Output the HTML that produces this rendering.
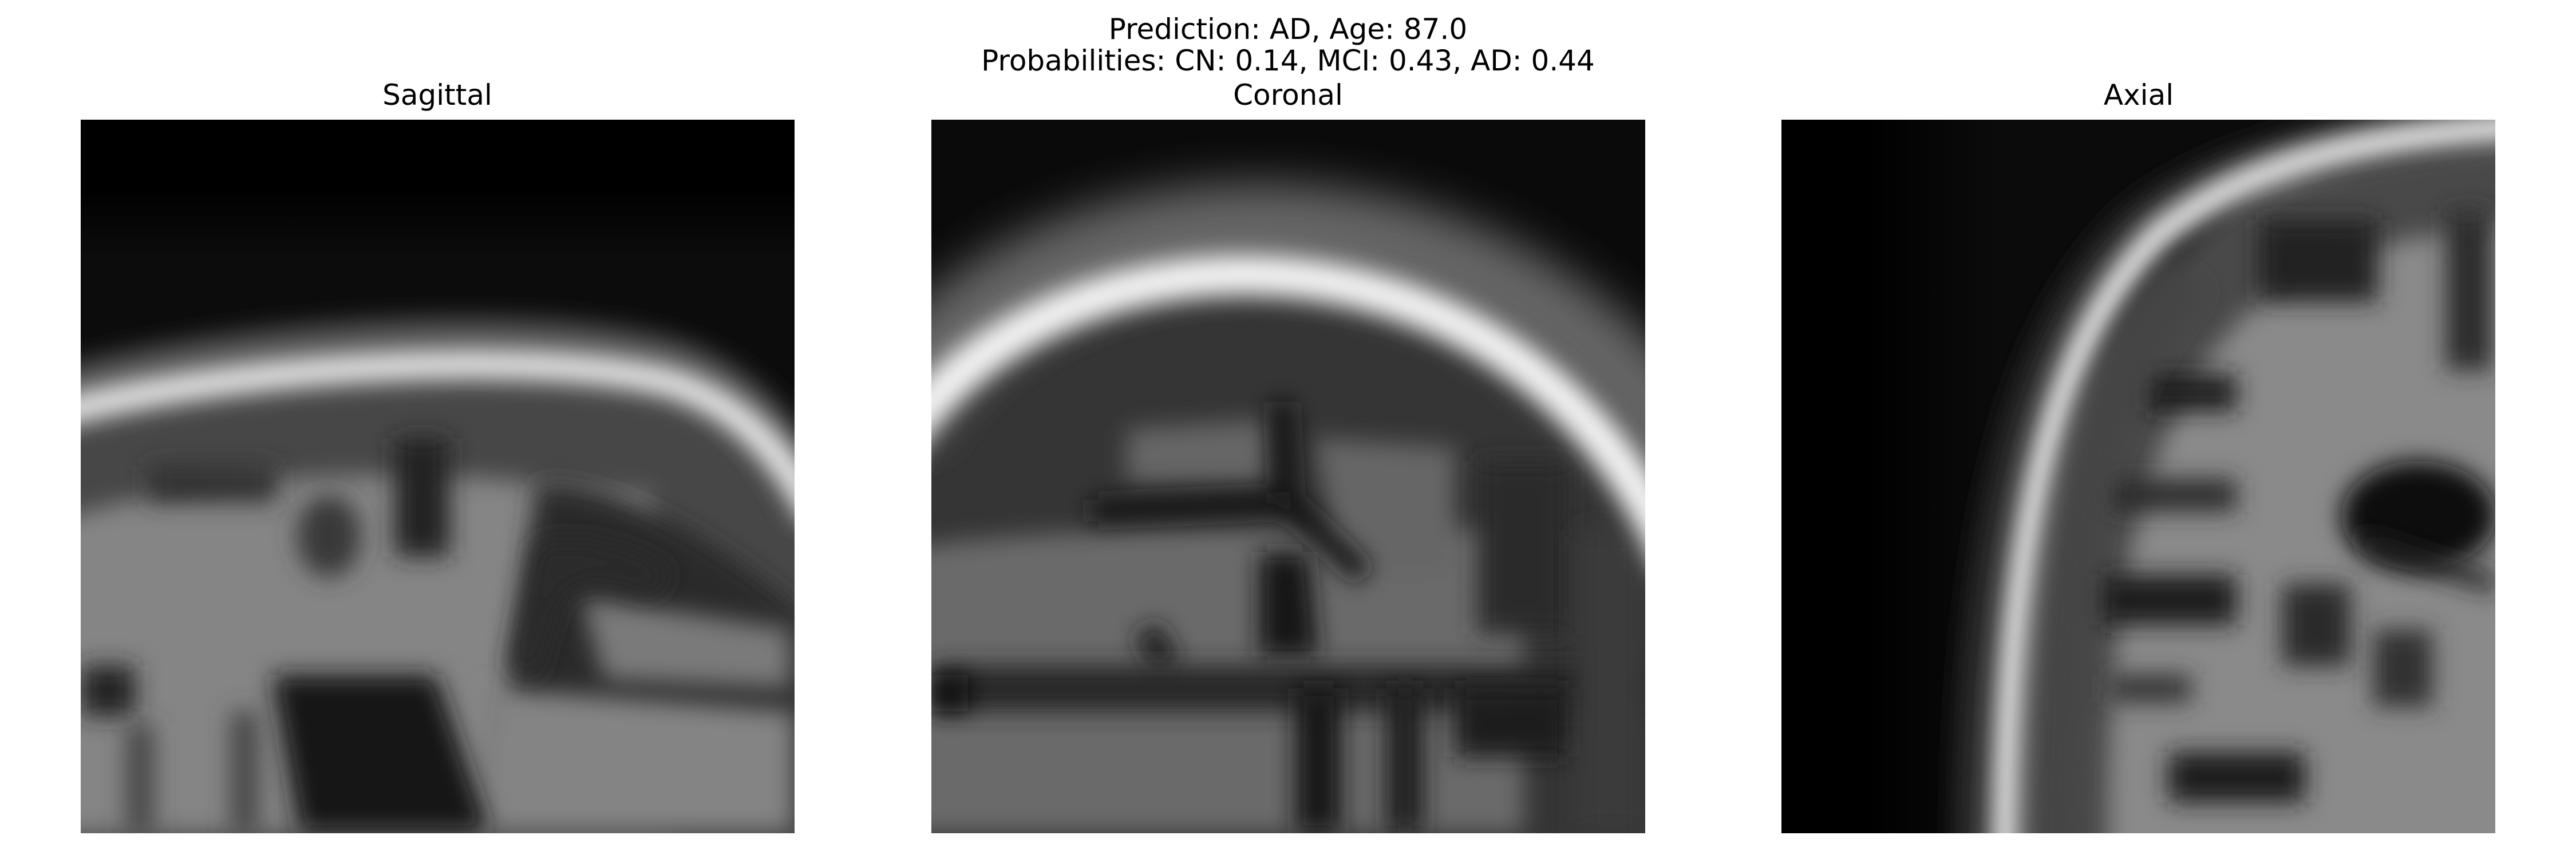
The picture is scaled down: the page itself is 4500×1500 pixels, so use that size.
<!DOCTYPE html>
<html><head><meta charset="utf-8"><style>
html,body{margin:0;padding:0;background:#fff;}
svg{display:block;}
text{font-family:"DejaVu Sans","Liberation Sans",sans-serif;font-size:50px;fill:#000;}
</style></head><body>
<svg width="4500" height="1500" viewBox="0 0 4500 1500">
<defs>
<filter id="b" filterUnits="userSpaceOnUse" x="-600" y="-600" width="2800" height="2800"><feGaussianBlur stdDeviation="26"/></filter>
<filter id="b2" filterUnits="userSpaceOnUse" x="-600" y="-600" width="2800" height="2800"><feGaussianBlur stdDeviation="50"/></filter>
<linearGradient id="hz" x1="0" y1="0" x2="0" y2="1">
<stop offset="0" stop-color="#000"/><stop offset="0.15" stop-color="#000"/><stop offset="0.3" stop-color="#0c0c0c"/><stop offset="1" stop-color="#0c0c0c"/>
</linearGradient>
<linearGradient id="hx" x1="0" y1="0" x2="1" y2="0">
<stop offset="0" stop-color="#000"/><stop offset="0.12" stop-color="#000"/><stop offset="0.3" stop-color="#0b0b0b"/><stop offset="1" stop-color="#0b0b0b"/>
</linearGradient>
<clipPath id="c"><rect width="1568" height="1568"/></clipPath>
</defs>
<text x="2250" y="68" text-anchor="middle">Prediction: AD, Age: 87.0</text>
<text x="2250" y="123" text-anchor="middle">Probabilities: CN: 0.14, MCI: 0.43, AD: 0.44</text>
<text x="764" y="183" text-anchor="middle">Sagittal</text>
<text x="2250" y="183" text-anchor="middle">Coronal</text>
<text x="3736" y="183" text-anchor="middle">Axial</text>

<!-- Sagittal -->
<svg x="141" y="209" width="1247" height="1246" viewBox="0 0 1568 1568" preserveAspectRatio="none">
<g clip-path="url(#c)">
<rect width="1568" height="1568" fill="#000"/>
<rect x="0" y="0" width="1568" height="1000" fill="url(#hz)"/>
<path d="M-100 660 C300 540 1000 500 1300 580 C1450 630 1540 730 1700 900 L1700 1700 L-100 1700Z" fill="#474747" filter="url(#b)"/>
<path d="M-100 900 C200 780 700 760 1000 800 L1250 820 L1300 1568 L-100 1568Z" fill="#858585" filter="url(#b)"/>
<path d="M1000 800 C1200 780 1500 1000 1600 1100 L1600 1568 L900 1568Z" fill="#2c2c2c" filter="url(#b)"/>
<path d="M1100 1050 L1560 1120 L1560 1250 L1150 1230Z" fill="#7a7a7a" filter="url(#b)"/>
<path d="M900 1250 L1568 1300 L1568 1568 L850 1568Z" fill="#848484" filter="url(#b)"/>
<path d="M1000 930 C1100 900 1250 950 1300 1000 L1250 1050 C1150 1000 1060 1000 1040 1100 L1000 1230 L940 1200Z" fill="#2a2a2a" filter="url(#b)"/>
<ellipse cx="545" cy="915" rx="70" ry="90" fill="#383838" filter="url(#b)"/>
<rect x="690" y="700" width="120" height="260" fill="#222" filter="url(#b)"/>
<rect x="150" y="760" width="280" height="80" fill="#333" filter="url(#b)"/>
<path d="M420 1220 L780 1220 L900 1568 L480 1568Z" fill="#181818" filter="url(#b)"/>
<rect x="0" y="1200" width="120" height="110" fill="#222" filter="url(#b)"/>
<rect x="100" y="1330" width="60" height="240" fill="#444" filter="url(#b)"/>
<rect x="330" y="1300" width="60" height="268" fill="#444" filter="url(#b)"/>
<path d="M-100 620 C300 490 1000 450 1300 540 C1450 590 1540 700 1620 860" fill="none" stroke="#555" stroke-width="110" filter="url(#b)"/>
<path d="M-100 660 C300 540 1000 500 1300 580 C1450 630 1540 730 1620 880" fill="none" stroke="#f2f2f2" stroke-width="60" filter="url(#b)"/>
</g></svg>

<!-- Coronal -->
<svg x="1627" y="209" width="1247" height="1246" viewBox="0 0 1568 1568" preserveAspectRatio="none">
<g clip-path="url(#c)">
<rect width="1568" height="1568" fill="#0a0a0a"/>
<path d="M-100 760 C200 190 1300 140 1700 990 L1700 1700 L-100 1700Z" fill="#363636" filter="url(#b)"/>
<path d="M-100 950 C300 880 900 900 1300 900 L1300 1568 L-100 1568Z" fill="#6a6a6a" filter="url(#b)"/>
<path d="M430 680 L740 660 L740 800 L430 800Z" fill="#666" filter="url(#b)"/>
<path d="M840 700 L1150 720 L1150 1000 L900 1000Z" fill="#666" filter="url(#b)"/>
<path d="M350 860 L780 840 M770 620 L780 840 L950 1000" fill="none" stroke="#161616" stroke-width="50" filter="url(#b)"/>
<path d="M720 950 L830 950 L850 1180 L720 1180Z" fill="#151515" filter="url(#b)"/>
<path d="M470 1120 L520 1200" stroke="#1a1a1a" stroke-width="60" filter="url(#b)"/>
<rect x="1200" y="750" width="200" height="380" fill="#2a2a2a" filter="url(#b)"/>
<rect x="0" y="1200" width="1568" height="100" fill="#262626" filter="url(#b)"/>
<rect x="0" y="1220" width="80" height="80" fill="#111" filter="url(#b)"/>
<rect x="800" y="1250" width="100" height="318" fill="#151515" filter="url(#b)"/>
<rect x="1000" y="1250" width="80" height="318" fill="#1a1a1a" filter="url(#b)"/>
<rect x="1150" y="1250" width="250" height="150" fill="#1a1a1a" filter="url(#b)"/>
<rect x="1420" y="900" width="148" height="668" fill="#3a3a3a" filter="url(#b)"/>
<path d="M-100 660 C200 100 1300 50 1700 820" fill="none" stroke="#666" stroke-width="200" filter="url(#b2)"/>
<path d="M-100 760 C200 190 1300 140 1640 990" fill="none" stroke="#f4f4f4" stroke-width="90" filter="url(#b)"/>
</g></svg>

<!-- Axial -->
<svg x="3112" y="209" width="1247" height="1246" viewBox="0 0 1568 1568" preserveAspectRatio="none">
<g clip-path="url(#c)">
<rect width="1568" height="1568" fill="url(#hx)"/>
<path d="M520 1700 C520 1000 600 400 1100 120 L1700 20 L1700 1700Z" fill="#4a4a4a" filter="url(#b)"/>
<path d="M720 1700 C700 1000 800 500 1200 300 L1700 200 L1700 1700Z" fill="#8a8a8a" filter="url(#b)"/>
<ellipse cx="1400" cy="870" rx="170" ry="120" fill="#111" filter="url(#b)"/>
<path d="M1250 900 L1568 1000 L1568 1040 L1300 960Z" fill="#222" filter="url(#b)"/>
<rect x="800" y="560" width="200" height="80" fill="#1c1c1c" filter="url(#b)"/>
<rect x="720" y="790" width="280" height="70" fill="#2a2a2a" filter="url(#b)"/>
<rect x="700" y="1000" width="300" height="110" fill="#1a1a1a" filter="url(#b)"/>
<rect x="1100" y="1020" width="150" height="180" fill="#2a2a2a" filter="url(#b)"/>
<rect x="1300" y="1120" width="130" height="170" fill="#333" filter="url(#b)"/>
<rect x="850" y="1390" width="300" height="110" fill="#1a1a1a" filter="url(#b)"/>
<rect x="720" y="1220" width="180" height="60" fill="#333" filter="url(#b)"/>
<rect x="1050" y="220" width="260" height="180" fill="#222" filter="url(#b)"/>
<rect x="1460" y="200" width="100" height="350" fill="#2a2a2a" filter="url(#b)"/>
<path d="M600 1700 C600 1000 660 600 900 350" fill="none" stroke="#444" stroke-width="90" filter="url(#b)"/>
<path d="M420 1700 C420 1000 500 500 780 230 C980 70 1300 10 1700 -10" fill="none" stroke="#2a2a2a" stroke-width="90" filter="url(#b)"/>
<path d="M490 1700 C490 1000 560 520 830 250 C1030 90 1300 30 1700 10" fill="none" stroke="#f4f4f4" stroke-width="60" filter="url(#b)"/>
</g></svg>
</svg>
</body></html>
